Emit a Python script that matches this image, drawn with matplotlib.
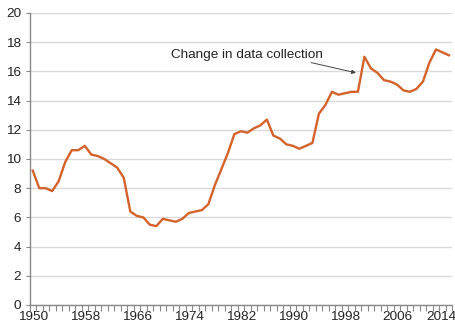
import numpy as np
from matplotlib import pyplot as plt
from matplotlib.ticker import MultipleLocator
from matplotlib.transforms import ScaledTranslation

plt.rcParams['font.family'] = ['Liberation Sans', 'DejaVu Sans']

years = list(range(1950, 2015))
values = [
    9.2, 8.0, 8.0, 7.8, 8.5, 9.8, 10.6, 10.6, 10.9, 10.3,
    10.2, 10.0, 9.7, 9.4, 8.7, 6.4, 6.1, 6.0, 5.5, 5.4,
    5.9, 5.8, 5.7, 5.9, 6.3, 6.4, 6.5, 6.9, 8.2, 9.3,
    10.4, 11.7, 11.9, 11.8, 12.1, 12.3, 12.7, 11.6, 11.4, 11.0,
    10.9, 10.7, 10.9, 11.1, 13.1, 13.7, 14.6, 14.4, 14.5, 14.6,
    14.6, 17.0, 16.2, 15.9, 15.4, 15.3, 15.1, 14.7, 14.6, 14.8,
    15.3, 16.6, 17.5, 17.3, 17.1,
]
label_years = list(range(1950, 2015, 8))
note = "Change in data collection"

fig = plt.figure(figsize=(4.56, 3.22), dpi=100)
ax = fig.add_axes([0.0647, 0.0528, 0.927, 0.907])

ax.plot(years, values, color='#d4622b', lw=1.7, solid_joinstyle='round', zorder=3)

ax.set_xlim(1949.5, 2014.5)
ax.set_ylim(0, 20)
ax.yaxis.set_major_locator(MultipleLocator(2))
ax.grid(axis='y', color='#d9d9d9', lw=1)
ax.set_axisbelow(True)

ax.set_xticks(label_years)
ax.set_xticks(np.arange(1949.5, 2015, 1), minor=True)
ax.tick_params(axis='x', which='major', length=0, labelsize=9.7, pad=4, colors='#222222')
ax.tick_params(axis='x', which='minor', length=4, color='#888888', width=0.8)
ax.tick_params(axis='y', length=3, color='#888888', labelsize=9.7, pad=3, labelcolor='#222222')

# last year label would run off the right edge; pull it in a bit
last = ax.get_xticklabels()[-1]
last.set_horizontalalignment('right')
last.set_transform(last.get_transform() + ScaledTranslation(7 / 100, 0, fig.dpi_scale_trans))

for s in ['top', 'right']:
    ax.spines[s].set_visible(False)
for s in ['left', 'bottom']:
    ax.spines[s].set_color('#888888')
    ax.spines[s].set_linewidth(1)

# label and arrow drawn separately so the arrow can start under the text end
ax.text(1994.6, 17.1, note, fontsize=9.7, color='#222222', ha='right', va='center')
ax.annotate('', xy=(1999.7, 15.9), xytext=(1992.8, 16.6),
            arrowprops=dict(arrowstyle='-|>', color='#444444', lw=0.7,
                            mutation_scale=6, shrinkA=0, shrinkB=0))

fig.savefig('out.png', dpi=100)
